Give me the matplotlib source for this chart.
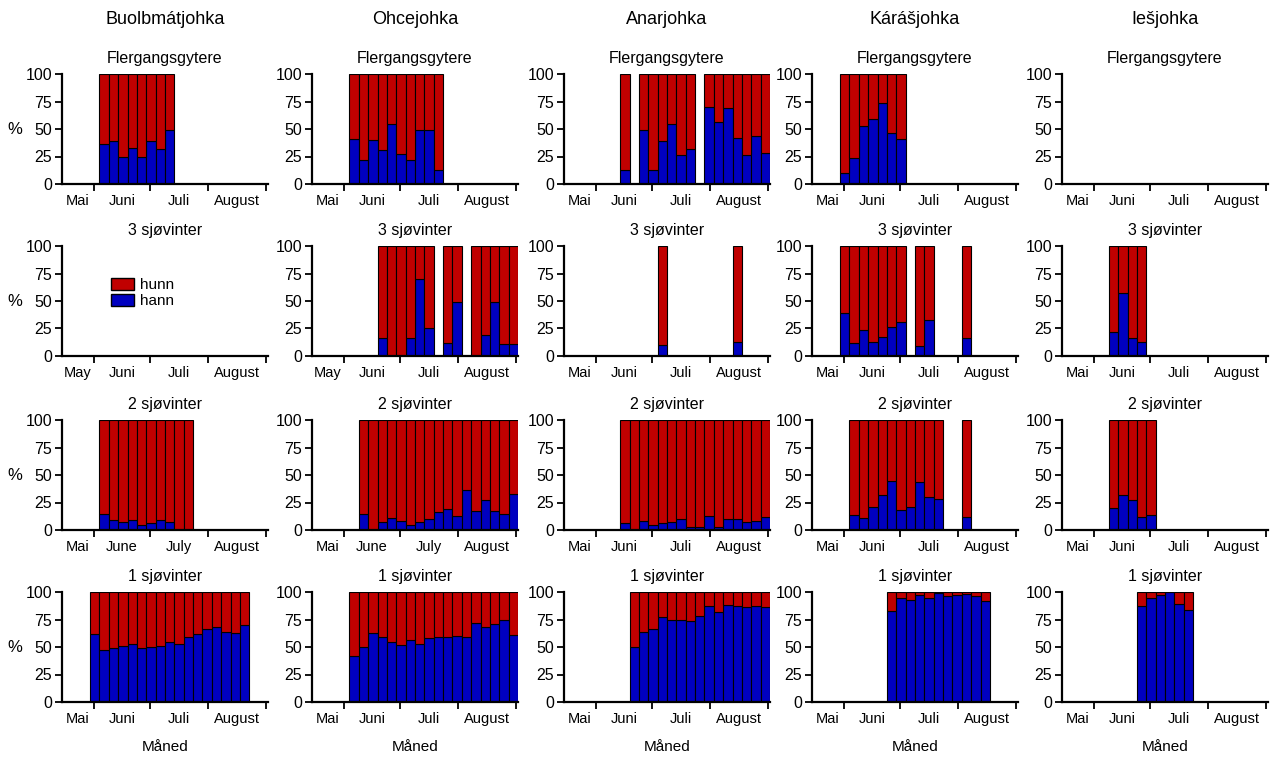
import matplotlib
matplotlib.use("Agg")
import matplotlib.pyplot as plt
from matplotlib.patches import Patch

plt.rcParams['font.family'] = ['Liberation Sans', 'DejaVu Sans']

rivers = ["Buolbmátjohka", "Ohcejohka", "Anarjohka", "Kárášjohka", "Iešjohka"]
groups = ["Flergangsgytere", "3 sjøvinter", "2 sjøvinter", "1 sjøvinter"]
months = ["Mai", "Juni", "Juli", "August"]
months_may = ["May", "Juni", "Juli", "August"]
months_eng = ["Mai", "June", "July", "August"]

# x axis: days from mid May, 5-day bins, month starts
month_starts = [17, 47, 78, 109]
month_mid = [8.5, 32, 62.5, 93.5]
bin_days = 5
n_bins = 22

# first bin with data, and % hann per bin (None = no fish that bin)
flergang_start = [4, 4, 6, 3, 0]
flergang_hann = [
    [36, 39, 25, 33, 25, 39, 32, 49],
    [41, 22, 40, 31, 55, 27, 22, 49, 49, 13],
    [13, None, 49, 13, 39, 55, 26, 32, None, 70, 56, 69, 42, 26, 44, 28],
    [10, 24, 53, 59, 74, 46, 41],
    [],
]
sw3_start = [0, 7, 10, 3, 5]
sw3_hann = [
    [],
    [16, 0, 0, 16, 70, 25, None, 12, 49, None, 0, 19, 49, 11, 11],
    [10, None, None, None, None, None, None, None, 13],
    [39, 12, 24, 13, 17, 26, 31, None, 9, 33, None, None, None, 16],
    [22, 57, 16, 13],
]
sw2_start = [4, 5, 6, 4, 5]
sw2_hann = [
    [15, 9, 7, 9, 5, 6, 9, 7, 0, 0],
    [15, 0, 7, 11, 8, 5, 7, 10, 16, 19, 13, 36, 17, 27, 17, 15, 33],
    [6, 0, 8, 5, 6, 7, 10, 3, 3, 13, 3, 10, 10, 7, 8, 12],
    [14, 11, 21, 32, 45, 18, 21, 44, 30, 28, None, None, 12],
    [20, 32, 27, 12, 14],
]
sw1_start = [3, 4, 7, 8, 8]
sw1_hann = [
    [62, 47, 49, 51, 53, 49, 50, 51, 55, 53, 59, 62, 66, 68, 64, 63, 70],
    [42, 50, 63, 59, 55, 52, 56, 53, 58, 59, 59, 60, 59, 72, 68, 71, 75, 61],
    [50, 64, 66, 77, 75, 75, 74, 78, 87, 82, 88, 87, 86, 87, 86],
    [83, 95, 93, 97, 95, 99, 96, 97, 98, 96, 92],
    [87, 95, 97, 100, 89, 84],
]

starts = [flergang_start, sw3_start, sw2_start, sw1_start]
hann = [flergang_hann, sw3_hann, sw2_hann, sw1_hann]

red = "#C00000"
blue = "#0000C0"

W, H = 1270, 758
fig = plt.figure(figsize=(W / 100, H / 100), dpi=100)

col_left = [62, 312, 564, 812, 1062]
row_top = [74, 246, 420, 592]
ax_w, ax_h = 206, 110

for r in range(4):
    for c in range(5):
        ax = fig.add_axes([col_left[c] / W, 1 - (row_top[r] + ax_h) / H, ax_w / W, ax_h / H])
        vals = hann[r][c]
        s = starts[r][c]
        xs, hv = [], []
        for k, v in enumerate(vals):
            if v is None:
                continue
            xs.append((s + k) * bin_days + bin_days / 2)
            hv.append(v)
        if xs:
            ax.bar(xs, hv, width=bin_days, color=blue, edgecolor="black", linewidth=0.8)
            ax.bar(xs, [100 - v for v in hv], bottom=hv, width=bin_days, color=red,
                   edgecolor="black", linewidth=0.8)
        ax.set_xlim(0, n_bins * bin_days)
        ax.set_ylim(0, 100)
        ax.set_yticks([0, 25, 50, 75, 100])
        ax.tick_params(axis="y", labelsize=11.5, length=5, width=1.3, direction="out", pad=2)
        ax.set_xticks(month_starts)
        ax.set_xticklabels([])
        ax.tick_params(axis="x", which="major", length=5, width=1.3, direction="out")
        if (r, c) in [(1, 0), (1, 1)]:
            labs = months_may
        elif (r, c) in [(2, 0), (2, 1)]:
            labs = months_eng
        else:
            labs = months
        ax.set_xticks(month_mid, minor=True)
        ax.set_xticklabels(labs, minor=True)
        ax.tick_params(axis="x", which="minor", length=0, labelsize=10.5, pad=7)
        for sp in ["top", "right"]:
            ax.spines[sp].set_visible(False)
        for sp in ["left", "bottom"]:
            ax.spines[sp].set_linewidth(1.6)
        ax.set_title(groups[r], fontsize=11.5, pad=8)
        if c == 0:
            ax.set_ylabel("%", rotation=0, fontsize=12, labelpad=8, va="center")
        if r == 3:
            ax.set_xlabel("Måned", fontsize=11, labelpad=10)
        if r == 0:
            fig.text((col_left[c] + ax_w / 2) / W, 1 - 20 / H, rivers[c],
                     ha="center", va="center", fontsize=13)
        if (r, c) == (1, 0):
            handles = [Patch(facecolor=red, edgecolor="black", label="hunn"),
                       Patch(facecolor=blue, edgecolor="black", label="hann")]
            ax.legend(handles=handles, loc="upper left", bbox_to_anchor=(0.2, 0.78),
                      frameon=False, fontsize=11, handlelength=1.5, handleheight=0.8,
                      labelspacing=0.15, handletextpad=0.4, borderpad=0)

fig.savefig("out.png", dpi=100)
